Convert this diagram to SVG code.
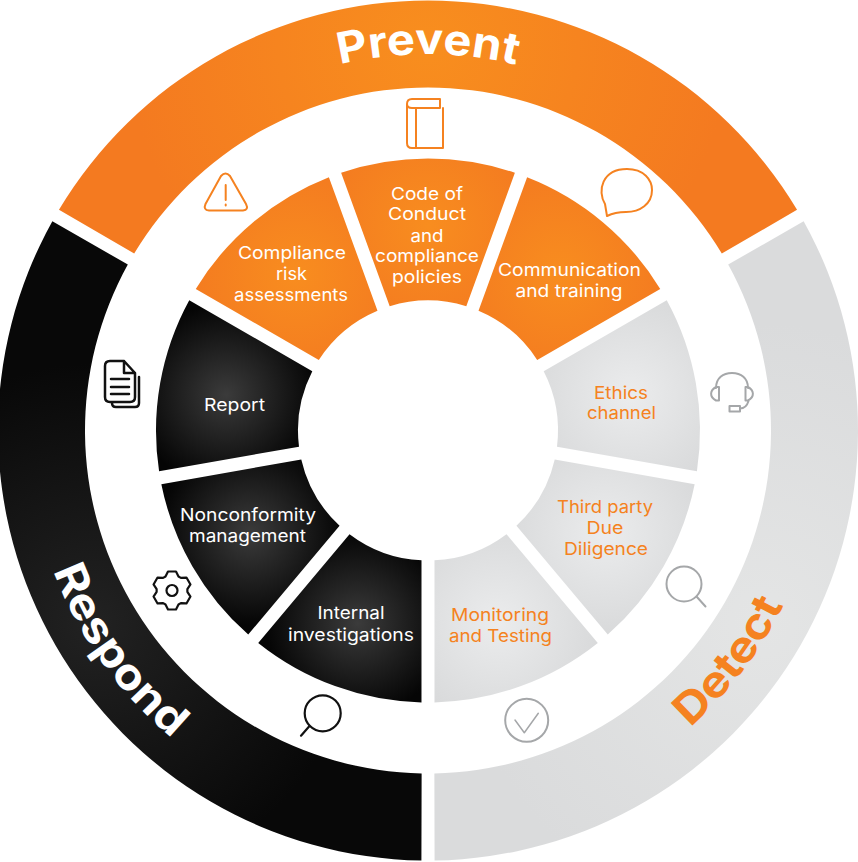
<svg xmlns="http://www.w3.org/2000/svg" width="858" height="862" viewBox="0 0 858 862">
<style>
text{font-family:"Inter","Liberation Sans",sans-serif;text-anchor:middle;font-size:17.5px;font-weight:400}
.w{fill:#fff}.o{fill:#f58220}
.big{font-size:43px;font-weight:700;text-anchor:start}
.io{fill:none;stroke:#f58220;stroke-width:2;stroke-linejoin:round;stroke-linecap:round}
.ik{fill:none;stroke:#111;stroke-width:2.2;stroke-linejoin:round;stroke-linecap:round}
.ig{fill:none;stroke:#a5a7a9;stroke-width:2;stroke-linejoin:round;stroke-linecap:round}
</style>
<defs>
<path id="seg" d="M-86.89,-257.75A272,272 0 0 1 86.89,-257.75L38.3,-124.23A130,130 0 0 0 -38.3,-124.23Z"/>
<path id="arc" d="M-369.05,-220.68A430,430 0 0 1 369.05,-220.68L293.81,-176.99A343,343 0 0 0 -293.81,-176.99Z"/>
<radialGradient id="gOrange" gradientUnits="userSpaceOnUse" cx="0" cy="-205" r="100"><stop offset="0" stop-color="#f88d1f"/><stop offset="1" stop-color="#f47c20"/></radialGradient>
<radialGradient id="gBlack" gradientUnits="userSpaceOnUse" cx="0" cy="-205" r="92"><stop offset="0" stop-color="#3b3b3b"/><stop offset="1" stop-color="#050505"/></radialGradient>
<radialGradient id="gGray" gradientUnits="userSpaceOnUse" cx="0" cy="-205" r="105"><stop offset="0" stop-color="#ebeced"/><stop offset="1" stop-color="#d8d9da"/></radialGradient>
<radialGradient id="rOrange" gradientUnits="userSpaceOnUse" cx="0" cy="-385" r="300"><stop offset="0" stop-color="#f88e1e"/><stop offset="1" stop-color="#f47a20"/></radialGradient>
<radialGradient id="rBlack" gradientUnits="userSpaceOnUse" cx="0" cy="-385" r="260"><stop offset="0" stop-color="#222"/><stop offset="1" stop-color="#080808"/></radialGradient>
<radialGradient id="rGray" gradientUnits="userSpaceOnUse" cx="0" cy="-385" r="300"><stop offset="0" stop-color="#e4e5e5"/><stop offset="1" stop-color="#dadbdc"/></radialGradient>
<path id="pPrevent" d="M340,64.4A376,376 0 0 1 616,104.9"/>
<path id="pRespond" d="M53.300,570.700A400,400 0 0 0 291.2,806.4"/>
<path id="pDetect" d="M689.9,727.5A396,396 0 0 0 810.5,533"/>
</defs>
<rect width="858" height="862" fill="#fff"/>

<g id="ring-prevent">
<use href="#arc" transform="translate(428 430.5)" fill="url(#rOrange)"/>
<text class="big w"><textPath href="#pPrevent" textLength="178" lengthAdjust="spacingAndGlyphs">Prevent</textPath></text>
</g>
<g id="ring-detect">
<use href="#arc" transform="translate(428 430.5) rotate(120)" fill="url(#rGray)"/>
<text class="big o"><textPath href="#pDetect" textLength="155" lengthAdjust="spacingAndGlyphs">Detect</textPath></text>
</g>
<g id="ring-respond">
<use href="#arc" transform="translate(428 430.5) rotate(240)" fill="url(#rBlack)"/>
<text class="big w"><textPath href="#pRespond" textLength="208" lengthAdjust="spacingAndGlyphs">Respond</textPath></text>
</g>

<g id="node-code">
<use href="#seg" transform="translate(428 430.5)" fill="url(#gOrange)"/>
<text class="w" x="427" y="199.5" textLength="72" lengthAdjust="spacingAndGlyphs">Code of</text><text class="w" x="427" y="220" textLength="78" lengthAdjust="spacingAndGlyphs">Conduct</text><text class="w" x="427" y="241.5" textLength="33" lengthAdjust="spacingAndGlyphs">and</text><text class="w" x="427" y="262" textLength="104" lengthAdjust="spacingAndGlyphs">compliance</text><text class="w" x="427" y="283" textLength="70" lengthAdjust="spacingAndGlyphs">policies</text>
<path class="io" d="M443,148H412Q407,148 407,143V104Q407,99 412,99H440V108H412Q407,108 407,104M443,108V148M416,108V148"/>
</g>
<g id="node-communication">
<use href="#seg" transform="translate(428 430.5) rotate(40)" fill="url(#gOrange)"/>
<text class="w" x="569.5" y="276" textLength="143" lengthAdjust="spacingAndGlyphs">Communication</text><text class="w" x="569" y="297" textLength="107" lengthAdjust="spacingAndGlyphs">and training</text>
<path class="io" d="M607,216L605,204C597,191 602,169 627,169C644,169 652,180 652,190C652,204 640,212 626,212C619,212 613,213 607,216Z"/>
</g>
<g id="node-ethics">
<use href="#seg" transform="translate(428 430.5) rotate(80)" fill="url(#gGray)"/>
<text class="o" x="621" y="399" textLength="54" lengthAdjust="spacingAndGlyphs">Ethics</text><text class="o" x="621.5" y="419" textLength="69" lengthAdjust="spacingAndGlyphs">channel</text>
<path class="ig" d="M716,388C716,378 723,373 732,373C741,373 748,378 748,388M716,387H719V400.5H716C709,397 710,390 716,387ZM748,387H745.500V400.500H748C755,397 754,390 748,387ZM748.500,401C747,406 744,408.500 740,408.500"/>
<rect class="ig" x="729.500" y="406" width="10.500" height="5.500"/>
</g>
<g id="node-thirdparty">
<use href="#seg" transform="translate(428 430.5) rotate(120)" fill="url(#gGray)"/>
<text class="o" x="605" y="513" textLength="96" lengthAdjust="spacingAndGlyphs">Third party</text><text class="o" x="605" y="534" textLength="37" lengthAdjust="spacingAndGlyphs">Due</text><text class="o" x="606" y="555" textLength="84" lengthAdjust="spacingAndGlyphs">Diligence</text>
<circle class="ig" cx="684" cy="584" r="17.500"/><path class="ig" d="M696.500,596.500L705.500,606.500"/>
</g>
<g id="node-monitoring">
<use href="#seg" transform="translate(428 430.5) rotate(160)" fill="url(#gGray)"/>
<text class="o" x="500" y="621" textLength="98" lengthAdjust="spacingAndGlyphs">Monitoring</text><text class="o" x="500.500" y="642" textLength="103" lengthAdjust="spacingAndGlyphs">and Testing</text>
<circle class="ig" cx="526.700" cy="720.300" r="21.500"/><path class="ig" style="stroke-width:1.500" d="M515,720L524.300,732.700L538.300,713.300"/>
</g>
<g id="node-investigations">
<use href="#seg" transform="translate(428 430.5) rotate(200)" fill="url(#gBlack)"/>
<text class="w" x="351" y="619" textLength="67" lengthAdjust="spacingAndGlyphs">Internal</text><text class="w" x="351" y="640.700" textLength="126" lengthAdjust="spacingAndGlyphs">investigations</text>
<circle class="ik" cx="322.700" cy="713.300" r="18"/><path class="ik" d="M309.500,726L301,735.700"/>
</g>
<g id="node-nonconformity">
<use href="#seg" transform="translate(428 430.5) rotate(240)" fill="url(#gBlack)"/>
<text class="w" x="248" y="521" textLength="136" lengthAdjust="spacingAndGlyphs">Nonconformity</text><text class="w" x="247.500" y="541.700" textLength="117" lengthAdjust="spacingAndGlyphs">management</text>
<g transform="translate(172 590.500)"><path class="ik" d="M-4,-19L4,-19L6.500,-14L8.870,-12.630L14.450,-12.960L18.450,-6.040L15.370,-1.370L15.370,1.370L18.450,6.040L14.450,12.960L8.870,12.630L6.500,14L4,19L-4,19L-6.500,14L-8.870,12.630L-14.450,12.960L-18.450,6.040L-15.370,1.370L-15.370,-1.370L-18.450,-6.040L-14.450,-12.960L-8.870,-12.630L-6.500,-14Z"/><circle class="ik" r="5.500"/></g>
</g>
<g id="node-report">
<use href="#seg" transform="translate(428 430.5) rotate(280)" fill="url(#gBlack)"/>
<text class="w" x="234.500" y="411" textLength="61" lengthAdjust="spacingAndGlyphs">Report</text>
<path class="ik" style="stroke-width:2.500" d="M135,373V397Q135,402 130,402H110Q105,402 105,397V366Q105,361 110,361H124ZM124,361V373H135M139,377V403Q139,407 135,407H116Q112,407 112,403M111,379H129M111,387H129M111,394H129"/>
</g>
<g id="node-risk">
<use href="#seg" transform="translate(428 430.5) rotate(320)" fill="url(#gOrange)"/>
<text class="w" x="292" y="259" textLength="108" lengthAdjust="spacingAndGlyphs">Compliance</text><text class="w" x="291.500" y="280" textLength="31" lengthAdjust="spacingAndGlyphs">risk</text><text class="w" x="291" y="301" textLength="114" lengthAdjust="spacingAndGlyphs">assessments</text>
<path class="io" d="M221,176Q225.500,171 230,176L246,204Q249,210 243,210.500H209Q203,210 205.500,204ZM225.700,185V200M225.700,204.500V205.500"/>
</g>
</svg>
